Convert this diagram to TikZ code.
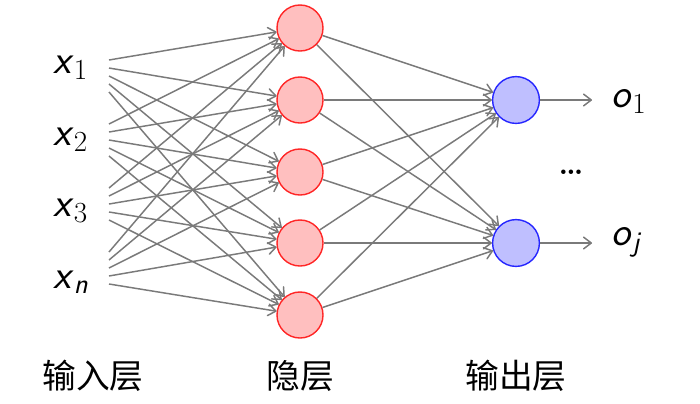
\documentclass[tikz,border=0pt]{standalone}
\usepackage{fontspec}
\usepackage{amsmath}
\usepackage{xcolor}
\usetikzlibrary{arrows.meta}
\newfontfamily\cjk{Noto Sans CJK SC}
\newcommand{\invar}[2]{\textsf{\itshape #1}$_{#2}$}

\tikzset{
  conn/.style={draw=black!52, line width=1.05pt, -{Straight Barb[length=1.9mm,width=2.9mm,round]}},
  hid/.style={circle, draw=red!85, fill=red!25, line width=1pt, minimum size=1.15cm, inner sep=0pt},
  outn/.style={circle, draw=blue!85, fill=blue!25, line width=1pt, minimum size=1.17cm, inner sep=0pt},
  varlab/.style={font=\fontsize{29}{34}\selectfont, inner sep=0pt},
  layerlab/.style={font=\cjk\fontsize{24}{28}\selectfont}
}

\begin{document}
\begin{tikzpicture}[x=0.025cm,y=-0.025cm]
\useasboundingbox (0,0) rectangle (700,403);

\node[varlab, anchor=base west] (x1) at (53,73) {\invar{x}{1}};
\node[varlab, anchor=base west] (x2) at (53,145) {\invar{x}{2}};
\node[varlab, anchor=base west] (x3) at (53,216) {\invar{x}{3}};
\node[varlab, anchor=base west] (x4) at (53,288) {\invar{x}{\textsf{\itshape n}}};

\node[hid] (h1) at (300,28) {};
\node[hid] (h2) at (300,100) {};
\node[hid] (h3) at (300,172) {};
\node[hid] (h4) at (300,243) {};
\node[hid] (h5) at (300,315) {};

\node[outn] (y1) at (516,100) {};
\node[outn] (y2) at (516,243) {};

\node[varlab, anchor=base west] (o1) at (611,107) {\textsf{\itshape o}$_1$};
\node[varlab, anchor=base west] (o2) at (611,245) {\textsf{\itshape o}$_{\textsf{\itshape j}}$};
\node[font=\bfseries\fontsize{22}{26}\selectfont, anchor=base] (dots) at (571,174) {\ldots};

\foreach \i in {1,...,4}
  \foreach \j in {1,...,5} {
    \coordinate (s\i\j) at (109,{60+64*(\i-1)+8*(\j-1)});
    \draw[conn] (s\i\j) -- (h\j);
  }

\foreach \j in {1,...,5} {
  \draw[conn] (h\j) -- (y1);
  \draw[conn] (h\j) -- (y2);
}

\coordinate (e1) at (592,100);
\coordinate (e2) at (592,243);
\draw[conn] (y1) -- (e1);
\draw[conn] (y2) -- (e2);

\node[layerlab] (lin) at (93,376) {输入层};
\node[layerlab] (lhid) at (300,376) {隐层};
\node[layerlab] (lout) at (516,376) {输出层};
\end{tikzpicture}
\end{document}
